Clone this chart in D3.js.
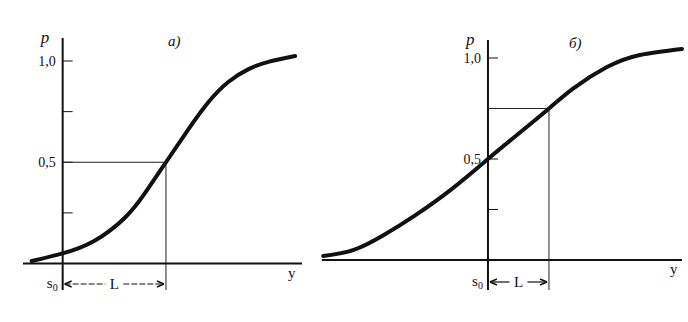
<!DOCTYPE html>
<html>
<head>
<meta charset="utf-8">
<script src="https://cdn.jsdelivr.net/npm/d3@7"></script>
<style>
  body { margin: 0; background: #fff; }
  svg { display: block; }
  text { font-family: "Liberation Serif", "DejaVu Serif", serif; fill: #111; }
</style>
</head>
<body>
<svg id="chart" width="688" height="322"></svg>
<script>
// panel а): distance in units of L (s0 = 0), probability p
const aDist = [-0.30, 0, 0.3, 0.6, 0.8, 1.0, 1.2, 1.4, 1.6, 1.8, 2.0, 2.25];
const aProb = [0.012, 0.05, 0.11, 0.225, 0.35, 0.5, 0.65, 0.79, 0.895, 0.96, 0.997, 1.025];

// panel б)
const bDist = [-2.70, -2.2, -1.7, -1.2, -0.6, 0, 0.5, 1.0, 1.4, 1.95, 2.49, 3.18];
const bProb = [0.02, 0.05, 0.125, 0.22, 0.35, 0.5, 0.625, 0.75, 0.85, 0.955, 1.015, 1.045];

const pTicks = [0.25, 0.5, 0.75, 1.0];
const pLabels = [{ v: 1.0, t: "1,0" }, { v: 0.5, t: "0,5" }];

const svg = d3.select("#chart");

const arrowHead = (g, x, y, dir) => {
  g.append("path")
    .attr("d", `M${x},${y} l${-dir * 7},-3 M${x},${y} l${-dir * 7},3`)
    .attr("stroke", "#111").attr("stroke-width", 1.4).attr("fill", "none");
};

const drawPanel = function(cfg) {
  const x = d3.scaleLinear().domain(cfg.xDomain).range(cfg.xRange);
  const y = d3.scaleLinear().domain([0, 1]).range(cfg.yRange);
  const g = svg.append("g");
  const x0 = x(0);

  // axes
  g.append("line")
    .attr("x1", cfg.xRange[0]).attr("x2", cfg.xRange[1])
    .attr("y1", y(0)).attr("y2", y(0))
    .attr("stroke", "#111").attr("stroke-width", 2);
  g.append("line")
    .attr("x1", x0).attr("x2", x0)
    .attr("y1", cfg.axisTop).attr("y2", 290)
    .attr("stroke", "#111").attr("stroke-width", 2);

  g.selectAll(".tick")
    .data(pTicks)
    .enter()
    .append("line")
    .attr("x1", x0).attr("x2", x0 + 10)
    .attr("y1", d => y(d)).attr("y2", d => y(d))
    .attr("stroke", "#111").attr("stroke-width", 1);

  g.selectAll(".plabel")
    .data(pLabels)
    .enter()
    .append("text")
    .attr("x", x0 - 7)
    .attr("y", d => y(d.v) + 5)
    .attr("text-anchor", "end")
    .attr("font-size", 14)
    .text(d => d.t);

  // guide lines to the point at distance L
  const pL = cfg.prob[cfg.dist.indexOf(1.0)];
  g.append("line")
    .attr("x1", x0).attr("x2", x(1))
    .attr("y1", y(pL)).attr("y2", y(pL))
    .attr("stroke", "#222").attr("stroke-width", 1);
  g.append("line")
    .attr("x1", x(1)).attr("x2", x(1))
    .attr("y1", y(pL)).attr("y2", 290)
    .attr("stroke", "#222").attr("stroke-width", 1);

  // curve
  const pts = cfg.dist.map((d, i) => [d, cfg.prob[i]]);
  const line = d3.line()
    .x(d => x(d[0]))
    .y(d => y(d[1]))
    .curve(d3.curveNatural);
  g.append("path")
    .attr("d", line(pts))
    .attr("fill", "none")
    .attr("stroke", "#111")
    .attr("stroke-width", 4)
    .attr("stroke-linecap", "round");

  // L span
  const ay = cfg.arrowY;
  const mid = (x0 + x(1)) / 2;
  g.append("line")
    .attr("x1", x0 + 2).attr("x2", mid - 9)
    .attr("y1", ay).attr("y2", ay)
    .attr("stroke", "#111").attr("stroke-width", 1.2)
    .attr("stroke-dasharray", cfg.dashed ? "6,2" : null);
  g.append("line")
    .attr("x1", mid + 9).attr("x2", x(1) - 2)
    .attr("y1", ay).attr("y2", ay)
    .attr("stroke", "#111").attr("stroke-width", 1.2)
    .attr("stroke-dasharray", cfg.dashed ? "6,2" : null);
  arrowHead(g, x0 + 2, ay, -1);
  arrowHead(g, x(1) - 2, ay, 1);
  g.append("text")
    .attr("x", mid).attr("y", ay + 5)
    .attr("text-anchor", "middle")
    .attr("font-size", 15)
    .text("L");

  // s0
  const s = g.append("text")
    .attr("x", x0 - 5).attr("y", ay + 4)
    .attr("text-anchor", "end")
    .attr("font-size", 15);
  s.append("tspan").text("s");
  s.append("tspan").attr("font-size", 10).attr("dy", 3).text("0");

  // letters
  g.append("text")
    .attr("x", x0 - 22).attr("y", cfg.axisTop + 5)
    .attr("font-size", 17).attr("font-style", "italic")
    .text("p");
  g.append("text")
    .attr("x", cfg.titleX).attr("y", cfg.axisTop + 8)
    .attr("font-size", 15).attr("font-style", "italic")
    .text(cfg.title);
  g.append("text")
    .attr("x", cfg.yLabelX).attr("y", y(0) + 14)
    .attr("font-size", 15)
    .text("y");
};

drawPanel({
  dist: aDist, prob: aProb,
  xDomain: [-0.384, 2.317], xRange: [23, 302],
  yRange: [263.5, 61],
  axisTop: 38, arrowY: 284, dashed: true,
  title: "а)", titleX: 168, yLabelX: 288
});

drawPanel({
  dist: bDist, prob: bProb,
  xDomain: [-2.72, 3.18], xRange: [322, 682],
  yRange: [260, 58],
  axisTop: 40, arrowY: 282, dashed: false,
  title: "б)", titleX: 569, yLabelX: 670
});
</script>
</body>
</html>
